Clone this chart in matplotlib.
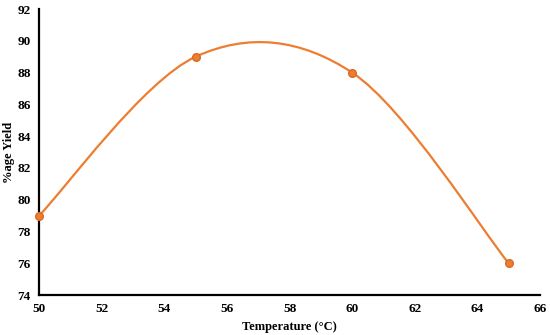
import matplotlib
matplotlib.use("Agg")
import matplotlib.pyplot as plt
from matplotlib.path import Path
from matplotlib.patches import PathPatch

temperature = [50, 55, 60, 65]
yield_pct = [79, 89, 88, 76]

x_ticks = [50, 52, 54, 56, 58, 60, 62, 64, 66]
y_ticks = [74, 76, 78, 80, 82, 84, 86, 88, 90, 92]

orange = "#ED7D31"

plt.rcParams["font.family"] = ["Liberation Serif", "DejaVu Serif"]
plt.rcParams["font.weight"] = "bold"

fig = plt.figure(figsize=(5.5, 3.35), dpi=100)
ax = fig.add_axes([0.071, 0.119, 0.911, 0.854])

# smoothed line like a spreadsheet chart (bezier through the data points)
pts = list(zip(temperature, yield_pct))
verts = [pts[0]]
codes = [Path.MOVETO]
for i in range(len(pts) - 1):
    p0 = pts[i - 1] if i > 0 else pts[i]
    p1 = pts[i]
    p2 = pts[i + 1]
    p3 = pts[i + 2] if i + 2 < len(pts) else pts[i + 1]
    c1 = (p1[0] + (p2[0] - p0[0]) / 6, p1[1] + (p2[1] - p0[1]) / 6)
    c2 = (p2[0] - (p3[0] - p1[0]) / 6, p2[1] - (p3[1] - p1[1]) / 6)
    verts += [c1, c2, p2]
    codes += [Path.CURVE4] * 3
ax.add_patch(PathPatch(Path(verts, codes), facecolor="none", edgecolor=orange, lw=1.6, zorder=2))
ax.plot(temperature, yield_pct, linestyle="none", marker="o", ms=5.5,
        color=orange, mec="#D96A20", zorder=3, clip_on=False)

ax.set_xlim(50, 66)
ax.set_ylim(74, 92)
ax.set_xticks(x_ticks)
ax.set_yticks(y_ticks)
ax.tick_params(length=0, labelsize=9.5, pad=6)
for lbl in ax.get_xticklabels() + ax.get_yticklabels():
    lbl.set_fontweight("bold")

for s in ["top", "right"]:
    ax.spines[s].set_visible(False)
for s in ["left", "bottom"]:
    ax.spines[s].set_linewidth(1.6)
    ax.spines[s].set_color("black")

ax.set_xlabel("Temperature (°C)", fontsize=9, fontweight="bold", labelpad=4)
ax.set_ylabel("%age Yield", fontsize=9, fontweight="bold")
ax.yaxis.set_label_coords(-0.048, 0.5)

fig.savefig("out.png", dpi=100)
